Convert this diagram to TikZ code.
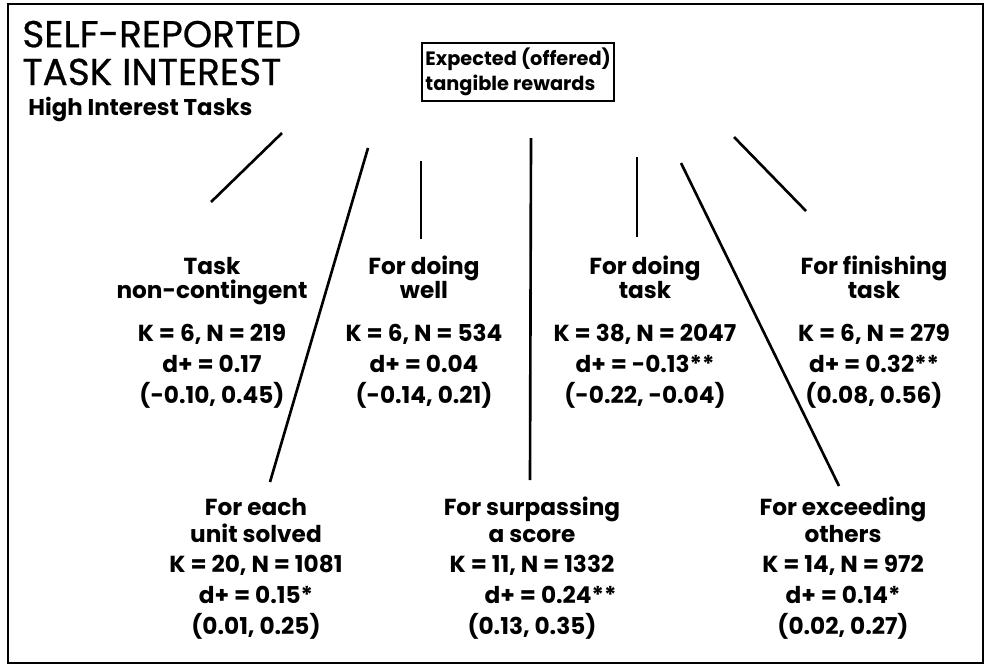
\documentclass[tikz,border=0pt]{standalone}
\usepackage{fontspec}
\setmainfont{Poppins}
\newfontfamily\titlefont{Poppins}[FakeBold=0.6]
\tikzset{
    stat/.style={font=\bfseries\fontsize{13.2}{17.6}\selectfont, align=center, inner sep=0pt, anchor=base},
    spoke/.style={line width=1.5pt}
}
\begin{document}
\begin{tikzpicture}[x=0.2mm, y=-0.2mm]
    \useasboundingbox (0,0) rectangle (986,666);
    \draw[line width=1.1pt] (8,4) rectangle (983,663);

    % Title
    \node (title) [anchor=base west, inner sep=0pt, align=left,
        font=\titlefont\fontsize{21.3}{21.5}\selectfont] at (22,85) {SELF-REPORTED\\TASK INTEREST};
    \node (sub) [anchor=base west, inner sep=0pt, font=\bfseries\fontsize{13}{16}\selectfont]
        at (28,115) {High Interest Tasks};

    % Reward box
    \node (reward) [draw, line width=1.1pt, anchor=north west, align=left, inner xsep=2pt,
        inner ysep=3pt, font=\bfseries\fontsize{11}{14.2}\selectfont] at (421,42)
        {Expected (offered)\\tangible rewards};

    % Reward types, upper row
    \node (nonc) [stat] at (212,403) {Task\\[-4pt]non-contingent\\[6.8pt]K = 6, N = 219\\d+ = 0.17\\(-0.10, 0.45)};
    \node (well) [stat] at (424,403) {For doing\\[-4pt]well\\[6.8pt]K = 6, N = 534\\d+ = 0.04\\(-0.14, 0.21)};
    \node (dotask) [stat] at (645,403) {For doing\\[-4pt]task\\[6.8pt]K = 38, N = 2047\\d+ = -0.13**\\(-0.22, -0.04)};
    \node (finish) [stat] at (874,403) {For finishing\\[-4pt]task\\[6.8pt]K = 6, N = 279\\d+ = 0.32**\\(0.08, 0.56)};

    % Reward types, lower row
    \node (unit) [stat] at (256,634) {For each\\[-2.3pt]unit solved\\[-0.6pt]K = 20, N = 1081\\d+ = 0.15*\\(0.01, 0.25)};
    \node (score) [stat] at (532,634) {For surpassing\\[-2.3pt]a score\\[-0.6pt]K = 11, N = 1332\\\hspace*{1.6em}d+ = 0.24**\\(0.13, 0.35)};
    \node (exceed) [stat] at (843,634) {For exceeding\\[-2.3pt]others\\[-0.6pt]K = 14, N = 972\\d+ = 0.14*\\(0.02, 0.27)};

    % Spoke ends
    \coordinate (nonc-a) at (282,133);   \coordinate (nonc-b) at (211,202);
    \coordinate (unit-a) at (368,148);   \coordinate (unit-b) at (270,482);
    \coordinate (well-a) at (421,161);   \coordinate (well-b) at (421,239);
    \coordinate (score-a) at (531,138);  \coordinate (score-b) at (530,480);
    \coordinate (dotask-a) at (637,157); \coordinate (dotask-b) at (637,237);
    \coordinate (exceed-a) at (681,163); \coordinate (exceed-b) at (839,486);
    \coordinate (finish-a) at (734,137); \coordinate (finish-b) at (806,211);

    % Spokes
    \draw[spoke] (nonc-a) -- (nonc-b);
    \draw[spoke] (unit-a) -- (unit-b);
    \draw[spoke] (well-a) -- (well-b);
    \draw[spoke] (score-a) -- (score-b);
    \draw[spoke] (dotask-a) -- (dotask-b);
    \draw[spoke] (exceed-a) -- (exceed-b);
    \draw[spoke] (finish-a) -- (finish-b);
\end{tikzpicture}
\end{document}
